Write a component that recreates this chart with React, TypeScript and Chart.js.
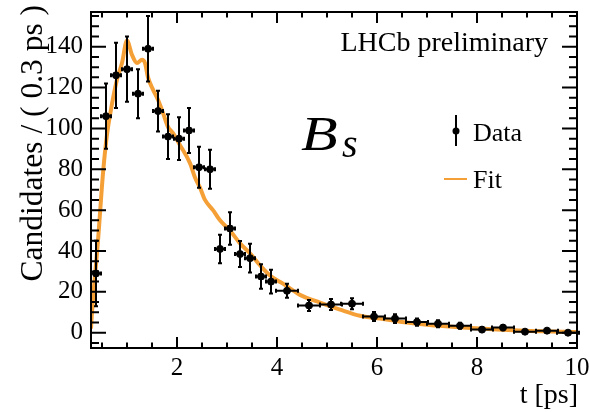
import { useEffect, useRef } from "react";
import { Chart, registerables } from "chart.js";

Chart.register(...registerables);

// ---- data ----
const binCenters = [
  0.38, 0.58, 0.78, 1.0, 1.22, 1.42, 1.62, 1.82, 2.04, 2.24, 2.44, 2.66, 2.86, 3.06, 3.26, 3.46, 3.68, 3.88,
  4.2, 4.64, 5.08, 5.5, 5.94, 6.36, 6.8, 7.22, 7.66, 8.1, 8.52, 8.96, 9.4, 9.82,
];
const binHalfWidths = [
  0.1, 0.1, 0.1, 0.1, 0.1, 0.1, 0.1, 0.1, 0.1, 0.1, 0.1, 0.1, 0.1, 0.1, 0.1, 0.1, 0.1, 0.1,
  0.22, 0.22, 0.22, 0.22, 0.22, 0.22, 0.22, 0.22, 0.22, 0.22, 0.22, 0.22, 0.22, 0.22,
];
const counts = [
  29, 106, 126, 129, 117, 139, 108.5, 96, 95, 99, 81, 80, 41, 51, 38.5, 36.5, 27.5, 25,
  20.5, 13.3, 13.8, 14.2, 7.9, 6.9, 5.2, 4.4, 3.4, 1.5, 2.5, 0.5, 1, 0,
];
const countErrors = [
  16, 16, 16, 16, 12, 16, 10, 11, 10.5, 11, 10, 9.5, 7, 8, 6.4, 7, 6, 5.8,
  3.4, 2.7, 2.7, 2.7, 2.2, 2.1, 1.8, 1.7, 1.5, 1.2, 1.3, 0.8, 0.9, 0.7,
];
const fitTimes = [
  0.28, 0.3, 0.42, 0.52, 0.6, 0.7, 0.8, 0.9, 1.0, 1.1, 1.2, 1.3, 1.36, 1.42, 1.52, 1.62, 1.72, 1.82, 1.92,
  2.06, 2.26, 2.36, 2.46, 2.56, 2.72, 2.86, 3.06, 3.26, 3.46, 3.66, 3.86, 4.12, 4.46, 4.86, 5.26, 5.66,
  6.06, 6.46, 7.0, 7.72, 8.4, 9.06, 9.72, 10.0,
];
const fitValues = [
  2, 10, 45, 78, 97, 112, 124, 132, 143, 136, 132, 133.6, 132, 125, 119, 114, 107.6, 100.7, 97.7,
  91.8, 83, 76, 71, 65, 60, 55, 50, 43.7, 38.8, 33, 28, 24, 18.5, 14.7, 11.3, 8.3,
  6.9, 5.4, 3.9, 2.5, 1.5, 0.8, 0.4, 0.3,
];
const xTickLabels = [2, 4, 6, 8, 10];
const yTickLabels = [0, 20, 40, 60, 80, 100, 120, 140];
const xRange = [0.28, 10];
const yRange = [-7.5, 157];

const SERIF = "'Liberation Serif', 'DejaVu Serif', serif";
const ORANGE = "#f5a037";

const hepPlugin = {
  id: "hepDecor",
  afterDatasetsDraw(chart: any) {
    const { ctx, scales } = chart;
    const x = scales.x;
    const y = scales.y;
    ctx.save();
    ctx.strokeStyle = "#000";
    ctx.lineWidth = 2;
    for (let i = 0; i < binCenters.length; i++) {
      const cx = x.getPixelForValue(binCenters[i]);
      const cy = y.getPixelForValue(counts[i]);
      const y0 = y.getPixelForValue(counts[i] - countErrors[i]);
      const y1 = y.getPixelForValue(counts[i] + countErrors[i]);
      const x0 = x.getPixelForValue(binCenters[i] - binHalfWidths[i]);
      const x1 = x.getPixelForValue(binCenters[i] + binHalfWidths[i]);
      ctx.beginPath();
      ctx.moveTo(cx, y0);
      ctx.lineTo(cx, y1);
      ctx.moveTo(cx - 2, y0);
      ctx.lineTo(cx + 2, y0);
      ctx.moveTo(cx - 2, y1);
      ctx.lineTo(cx + 2, y1);
      ctx.moveTo(x0, cy);
      ctx.lineTo(x1, cy);
      ctx.moveTo(x0, cy - 2);
      ctx.lineTo(x0, cy + 2);
      ctx.moveTo(x1, cy - 2);
      ctx.lineTo(x1, cy + 2);
      ctx.stroke();
    }
    ctx.restore();
  },
  afterDraw(chart: any) {
    const { ctx, chartArea: a, scales } = chart;
    const x = scales.x;
    const y = scales.y;
    ctx.save();
    ctx.strokeStyle = "#000";
    ctx.lineWidth = 2;
    ctx.strokeRect(a.left, a.top, a.right - a.left, a.bottom - a.top);
    ctx.beginPath();
    for (let k = 0; k <= 20; k++) {
      const v = k * 0.5;
      if (v < x.min || v > x.max) continue;
      const px = x.getPixelForValue(v);
      const len = k % 4 === 0 ? 11 : 5.5;
      ctx.moveTo(px, a.bottom);
      ctx.lineTo(px, a.bottom - len);
      ctx.moveTo(px, a.top);
      ctx.lineTo(px, a.top + len);
    }
    for (let k = -1; k <= 31; k++) {
      const v = k * 5;
      if (v < y.min || v > y.max) continue;
      const py = y.getPixelForValue(v);
      const len = k % 4 === 0 ? 15 : 8;
      ctx.moveTo(a.left, py);
      ctx.lineTo(a.left + len, py);
      ctx.moveTo(a.right, py);
      ctx.lineTo(a.right - len, py);
    }
    ctx.stroke();

    ctx.fillStyle = "#000";
    // axis titles
    ctx.font = `28px ${SERIF}`;
    ctx.textAlign = "right";
    ctx.textBaseline = "alphabetic";
    ctx.fillText("t [ps]", a.right + 1, 403);
    ctx.save();
    ctx.translate(42, 5);
    ctx.rotate(-Math.PI / 2);
    ctx.font = `31.5px ${SERIF}`;
    ctx.textAlign = "right";
    ctx.fillText("Candidates / ( 0.3 ps )", 0, 0);
    ctx.restore();

    // LHCb label
    ctx.font = `28px ${SERIF}`;
    ctx.textAlign = "right";
    ctx.fillText("LHCb preliminary", 548, 51);

    // B_s
    ctx.textAlign = "left";
    ctx.save();
    ctx.translate(301, 150);
    ctx.scale(1.25, 1);
    ctx.font = `italic 48px ${SERIF}`;
    ctx.fillText("B", 0, 0);
    ctx.restore();
    ctx.font = `italic 40px ${SERIF}`;
    ctx.fillText("s", 342, 157);

    // legend
    ctx.beginPath();
    ctx.moveTo(456, 115);
    ctx.lineTo(456, 146);
    ctx.stroke();
    ctx.beginPath();
    ctx.arc(456, 131, 3.5, 0, Math.PI * 2);
    ctx.fill();
    ctx.font = `26px ${SERIF}`;
    ctx.fillText("Data", 473, 141);
    ctx.strokeStyle = ORANGE;
    ctx.beginPath();
    ctx.moveTo(444, 179);
    ctx.lineTo(467, 179);
    ctx.stroke();
    ctx.fillText("Fit", 473, 188);
    ctx.restore();
  },
};

export default function App() {
  const ref = useRef<HTMLCanvasElement | null>(null);
  useEffect(() => {
    if (!ref.current) return;
    const chart = new Chart(ref.current, {
      type: "scatter",
      data: {
        datasets: [
          {
            label: "Data",
            data: binCenters.map((t, i) => ({ x: t, y: counts[i] })),
            backgroundColor: "#000",
            borderColor: "#000",
            pointRadius: 3.5,
            showLine: false,
            order: 0,
          },
          {
            label: "Fit",
            type: "line",
            data: fitTimes.map((t, i) => ({ x: t, y: fitValues[i] })),
            borderColor: ORANGE,
            borderWidth: 4,
            pointRadius: 0,
            fill: false,
            cubicInterpolationMode: "monotone",
            order: 1,
          } as any,
        ],
      },
      options: {
        responsive: false,
        animation: false,
        layout: { padding: { left: 0, right: 13, top: 12, bottom: 0 } },
        plugins: { legend: { display: false }, tooltip: { enabled: false } },
        scales: {
          x: {
            type: "linear",
            min: xRange[0],
            max: xRange[1],
            grid: { display: false, drawTicks: false },
            border: { display: false },
            afterBuildTicks: (s: any) => {
              s.ticks = xTickLabels.map((v) => ({ value: v }));
            },
            afterFit: (s: any) => {
              s.height = 64;
              s.paddingLeft = 0;
              s.paddingRight = 0;
            },
            ticks: {
              autoSkip: false,
              maxRotation: 0,
              padding: 5,
              color: "#000",
              font: { family: SERIF, size: 25 },
              callback: (v: any) => String(v),
            },
          },
          y: {
            type: "linear",
            min: yRange[0],
            max: yRange[1],
            grid: { display: false, drawTicks: false },
            border: { display: false },
            afterBuildTicks: (s: any) => {
              s.ticks = yTickLabels.map((v) => ({ value: v }));
            },
            afterFit: (s: any) => {
              s.width = 91;
              s.paddingTop = 0;
              s.paddingBottom = 0;
            },
            ticks: {
              autoSkip: false,
              padding: 8,
              color: "#000",
              font: { family: SERIF, size: 25 },
              callback: (v: any) => String(v),
            },
          },
        },
      },
      plugins: [hepPlugin],
    });
    return () => chart.destroy();
  }, []);
  return (
    <div style={{ position: "fixed", left: 0, top: 0, width: 590, height: 412, background: "#fff" }}>
      <canvas ref={ref} width={590} height={412} />
    </div>
  );
}
